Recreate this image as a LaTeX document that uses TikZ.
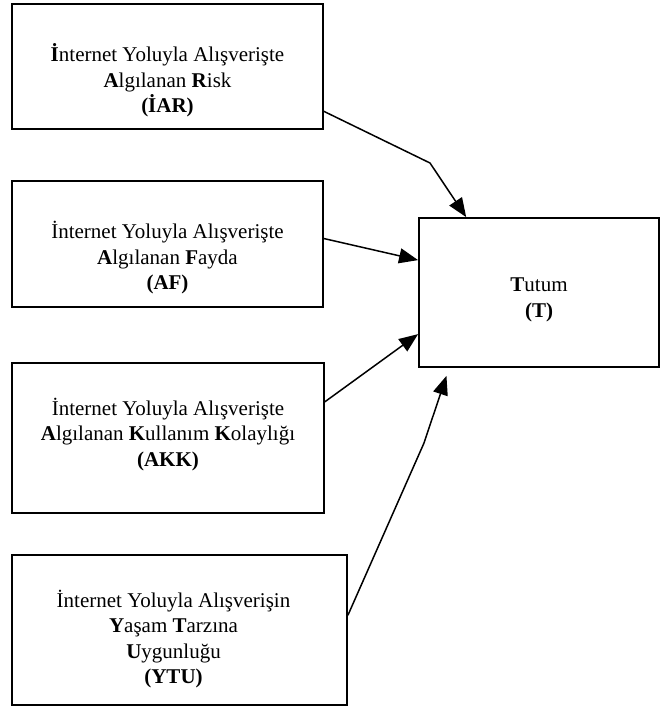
\documentclass[tikz,border=0pt]{standalone}
\usepackage{fontspec}
\setmainfont{Liberation Serif}
\usetikzlibrary{calc, arrows.meta}

\begin{document}
\begin{tikzpicture}[
  x=1pt, y=-1pt,
  font=\fontsize{21}{25.5}\selectfont,
  >={Triangle[length=19pt,width=15pt]},
  box/.style={draw=black, line width=1.8pt, inner sep=0pt},
  boxtext/.style={align=center, inner sep=0pt},
  link/.style={black, line width=1.5pt, ->},
]
\useasboundingbox (0,0) rectangle (664,707);

% ============================================================================
% LEFT: the four factor boxes, text sits a bit low as in the original
% ============================================================================
\node[box, minimum width=311pt, minimum height=125pt] (iar) at (167.5,66.5) {};
\node[boxtext] (iarT) at ($(iar.center)+(0,14)$)
  {\textbf{İ}nternet Yoluyla Alışverişte\\
   \textbf{A}lgılanan \textbf{R}isk\\
   \textbf{(İAR)}};

\node[box, minimum width=311pt, minimum height=126pt] (af) at (167.5,244) {};
\node[boxtext] (afT) at ($(af.center)+(0,14)$)
  {İnternet Yoluyla Alışverişte\\
   \textbf{A}lgılanan \textbf{F}ayda\\
   \textbf{(AF)}};

\node[box, minimum width=312pt, minimum height=150pt] (akk) at (168,438) {};
\node[boxtext] (akkT) at ($(akk.center)+(0,-3.5)$)
  {İnternet Yoluyla Alışverişte\\
   \textbf{A}lgılanan \textbf{K}ullanım \textbf{K}olaylığı\\
   \textbf{(AKK)}};

\node[box, minimum width=335pt, minimum height=150pt] (ytu) at (179.5,630) {};
\node[boxtext] (ytuT) at ($(ytu.center)+(-6,9)$)
  {İnternet Yoluyla Alışverişin\\
   \textbf{Y}aşam \textbf{T}arzına\\
   \textbf{U}ygunluğu\\
   \textbf{(YTU)}};

% ============================================================================
% RIGHT: target box
% ============================================================================
\node[box, minimum width=240pt, minimum height=149pt] (t) at (539,292.5) {};
\node[boxtext] (tT) at ($(t.center)+(0,7.5)$)
  {\textbf{T}utum\\
   \textbf{(T)}};

% ============================================================================
% arrows (two of them bent once)
% ============================================================================
\coordinate (k1) at (430,163);
\draw[link] (iar.-16) -- (k1) -- (t.134);

\draw[link] (af.2) -- (t.165);

\draw[link] (akk.13) -- (t.199);

% last one stops short of the box
\coordinate (k4) at (424,443);
\draw[link, shorten >=8.4pt] (ytu.5) -- (k4) -- (t.220);

\end{tikzpicture}
\end{document}
